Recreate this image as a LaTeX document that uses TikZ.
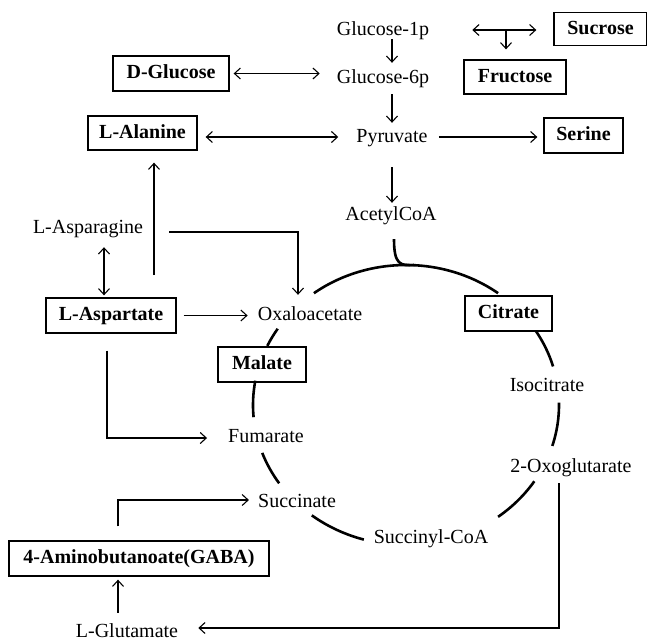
\documentclass[tikz,border=0pt]{standalone}
\usepackage{fontspec}
\setmainfont{Liberation Serif}
\usetikzlibrary{arrows.meta,calc}
\begin{document}
\begin{tikzpicture}[x=1pt,y=-1pt,
  txt/.style={inner sep=0pt,font=\fontsize{20}{24}\selectfont,text height=14pt,text depth=4pt},
  bx/.style={draw,line width=1.3pt,inner sep=0pt,font=\fontsize{20}{24}\selectfont\bfseries,text height=14pt,text depth=4pt},
  arr/.style={line width=1.1pt,-{Straight Barb[length=6pt,width=11pt]}},
  darr/.style={line width=1.1pt,{Straight Barb[length=6pt,width=11pt]}-{Straight Barb[length=6pt,width=11pt]}},
  cyc/.style={line width=2.6pt}]
\useasboundingbox (0,0) rectangle (647,641);

% nodes
\node[txt] (g1) at (383,30) {Glucose-1p};
\node[txt] (g6) at (383,78) {Glucose-6p};
\node[txt] (pyr) at (392,137) {Pyruvate};
\node[txt] (acoa) at (391,215) {AcetylCoA};
\node[bx,minimum width=93pt,minimum height=33pt] (suc) at (600.5,29) {Sucrose};
\node[bx,minimum width=102pt,minimum height=34pt] (fru) at (515,77) {Fructose};
\node[bx,minimum width=116pt,minimum height=35pt] (dglc) at (171,73.5) {D-Glucose};
\node[bx,minimum width=109pt,minimum height=34pt] (ala) at (142.5,133) {L-Alanine};
\node[bx,minimum width=79pt,minimum height=35pt] (ser) at (583.5,135.5) {Serine};
\node[txt] (asn) at (88,228) {L-Asparagine};
\node[bx,minimum width=130pt,minimum height=35pt] (asp) at (111,315.5) {L-Aspartate};
\node[txt] (oxa) at (310,315) {Oxaloacetate};
\node[bx,minimum width=88pt,minimum height=35pt] (mal) at (262,364.5) {Malate};
\node[txt] (fum) at (266,437) {Fumarate};
\node[txt] (succ) at (297,502) {Succinate};
\node[txt] (scoa) at (431,538) {Succinyl-CoA};
\node[bx,minimum width=87pt,minimum height=35pt] (cit) at (508.5,313.5) {Citrate};
\node[txt] (iso) at (547,386) {Isocitrate};
\node[txt] (oxo) at (571,467) {2-Oxoglutarate};
\node[bx,minimum width=260pt,minimum height=35pt] (gaba) at (139,558.5) {4-Aminobutanoate(GABA)};
\node[txt] (glu) at (127,632) {L-Glutamate};

% connectors
\draw[arr] (g1.south -| pyr.north) -- ($(g6.north -| pyr.north)+(0,-6)$);
\draw[arr] ($(g6.south -| pyr.north)+(0,7)$) -- ($(pyr.north)+(0,-5)$);
\draw[arr] ($(pyr.south)+(0,21)$) -- ($(acoa.north -| pyr.south)+(0,-3)$);
\draw[darr] ($(g1.east)+(43,0)$) -- ($(suc.west |- g1.east)+(-17,0)$);
\coordinate (sj) at (506,30);
\draw[arr] (sj) -- ($(sj |- fru.north)+(0,-10)$);
\draw[darr] ($(dglc.east)+(4,0)$) -- ($(g6.west |- dglc.east)+(-17,0)$);
\draw[darr] ($(ala.east |- pyr.west)+(8,0)$) -- ($(pyr.west)+(-18,0)$);
\draw[arr] ($(pyr.east)+(11,0)$) -- ($(ser.west |- pyr.east)+(-6,0)$);
\coordinate (alaup) at (154,275);
\draw[arr] (alaup) -- ($(alaup |- ala.south)+(0,12)$);
\draw[arr] ($(asn.east)+(26,4)$) -| ($(oxa.north)+(-12,-11)$);
\draw[darr] ($(asn.south)+(16,10)$) -- ($(asp.north)+(-7,-2)$);
\draw[arr] ($(asp.east)+(7,0)$) -- ($(oxa.west |- asp.east)+(-10,0)$);
\draw[arr] ($(asp.south)+(-4,17)$) |- ($(fum.west)+(-21,1)$);
\draw[arr] ($(gaba.north)+(-21,-14)$) |- ($(succ.west)+(-9,-2)$);
\draw[arr] ($(glu.north)+(-9,-10)$) -- ($(gaba.south)+(-21,3)$);
\draw[arr] ($(oxo.south)+(-12,7)$) |- ($(glu.east)+(20,-4)$);

% TCA cycle
\coordinate (cc) at (406,405);
\draw[cyc] ($(cc)+(-127:153 and 140)$) arc[start angle=-127,end angle=-53,x radius=153,y radius=140];
\draw[cyc] ($(cc)+(-32:153 and 140)$) arc[start angle=-32,end angle=-16,x radius=153,y radius=140];
\draw[cyc] ($(cc)+(-1:153 and 140)$) arc[start angle=-1,end angle=17,x radius=153,y radius=140];
\draw[cyc] ($(cc)+(33:153 and 140)$) arc[start angle=33,end angle=53,x radius=153,y radius=140];
\draw[cyc] ($(cc)+(106:153 and 140)$) arc[start angle=106,end angle=128,x radius=153,y radius=140];
\draw[cyc] ($(cc)+(146:153 and 140)$) arc[start angle=146,end angle=160,x radius=153,y radius=140];
\draw[cyc] ($(cc)+(175:153 and 140)$) arc[start angle=175,end angle=190,x radius=153,y radius=140];
\draw[cyc] ($(cc)+(205:153 and 140)$) arc[start angle=205,end angle=213,x radius=153,y radius=140];
\draw[cyc] ($(acoa.south)+(3,15)$) .. controls ($(acoa.south)+(3,40)$) and ($(cc)+(-6,-139)$) .. ($(cc)+(8,-140)$);
\end{tikzpicture}
\end{document}
